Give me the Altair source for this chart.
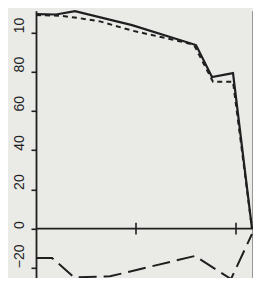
import altair as alt
import pandas as pd

# ---- data ----
solid_x = [0, 2.0, 3.9, 9.6, 16.0, 17.6, 19.7, 21.6]
solid_y = [109.5, 109.3, 111.0, 103.9, 93.7, 77.4, 79.4, 0]

short_x = [0, 2.4, 4.4, 6.4, 9.6, 14.6, 15.8, 17.7, 19.7, 21.6]
short_y = [109.0, 108.7, 107.4, 105.8, 101.1, 95.4, 93.8, 75.0, 75.0, 0]

long_x = [0, 1.6, 3.8, 7.4, 15.9, 19.5, 21.6]
long_y = [-15.0, -15.0, -24.9, -24.4, -14.0, -25.8, -2.8]

y_ticks = [-20, 0, 20, 40, 60, 80, 100]
x_ticks = [10, 20]

ink = "#1f1f1f"
paper = "#eaeae7"

xsc = alt.Scale(domain=[0, 21.7], nice=False, zero=False)
ysc = alt.Scale(domain=[-25, 111.2], nice=False, zero=False)

left_axis = alt.Axis(
    orient="left", values=y_ticks, grid=False, title=None,
    domainColor=ink, domainWidth=1.8, tickColor=ink, tickWidth=1.6, tickSize=5,
    labelAngle=270, labelAlign="left", labelBaseline="alphabetic", labelPadding=8,
    labelFont="Liberation Sans", labelFontSize=14, labelColor=ink,
    labelOverlap=False, labelBound=False, labelFlush=False,
    # the top label is cut short to "10" in the reference picture
    labelExpr="datum.value == 100 ? '10' : datum.label",
)
right_axis = alt.Axis(
    orient="right", values=y_ticks, grid=False, title=None, labels=False,
    domainColor=ink, domainWidth=1.8, tickColor=ink, tickWidth=1.6, tickSize=5,
)


def line(xs, ys, dash, width, axis):
    df = pd.DataFrame({"x": xs, "y": ys})
    kw = dict(color=ink, strokeWidth=width, strokeCap="butt", strokeJoin="miter")
    if dash:
        kw["strokeDash"] = dash
    return alt.Chart(df).mark_line(**kw).encode(
        x=alt.X("x:Q", scale=xsc, axis=None),
        y=alt.Y("y:Q", scale=ysc, axis=axis),
    )


solid = line(solid_x, solid_y, None, 2.2, left_axis)
short = line(short_x, short_y, [5, 4], 2.0, None)
longd = line(long_x, long_y, [18, 7], 2.0, right_axis)

zero_df = pd.DataFrame({"x": [0], "x2": [22.2], "y": [0]})
zero = alt.Chart(zero_df).mark_rule(color=ink, strokeWidth=1.8).encode(
    x=alt.X("x:Q", scale=xsc, axis=None),
    x2="x2:Q",
    y=alt.Y("y:Q", scale=ysc, axis=None),
)

tick_df = pd.DataFrame({"x": x_ticks, "y": [-3] * len(x_ticks), "y2": [3] * len(x_ticks)})
ticks = alt.Chart(tick_df).mark_rule(color=ink, strokeWidth=1.6).encode(
    x=alt.X("x:Q", scale=xsc, axis=None),
    y=alt.Y("y:Q", scale=ysc, axis=None),
    y2="y2:Q",
)

chart = (
    alt.layer(solid, short, longd, zero, ticks)
    .resolve_scale(y="independent")
    .properties(
        width=217,
        height=266.7,
        padding={"left": 28, "top": 2.8, "right": 0, "bottom": 0},
        autosize=alt.AutoSizeParams(type="none"),
        background=paper,
    )
    .configure_view(strokeWidth=0)
)

chart.save("out.html", embed_options={"renderer": "svg", "actions": False})
